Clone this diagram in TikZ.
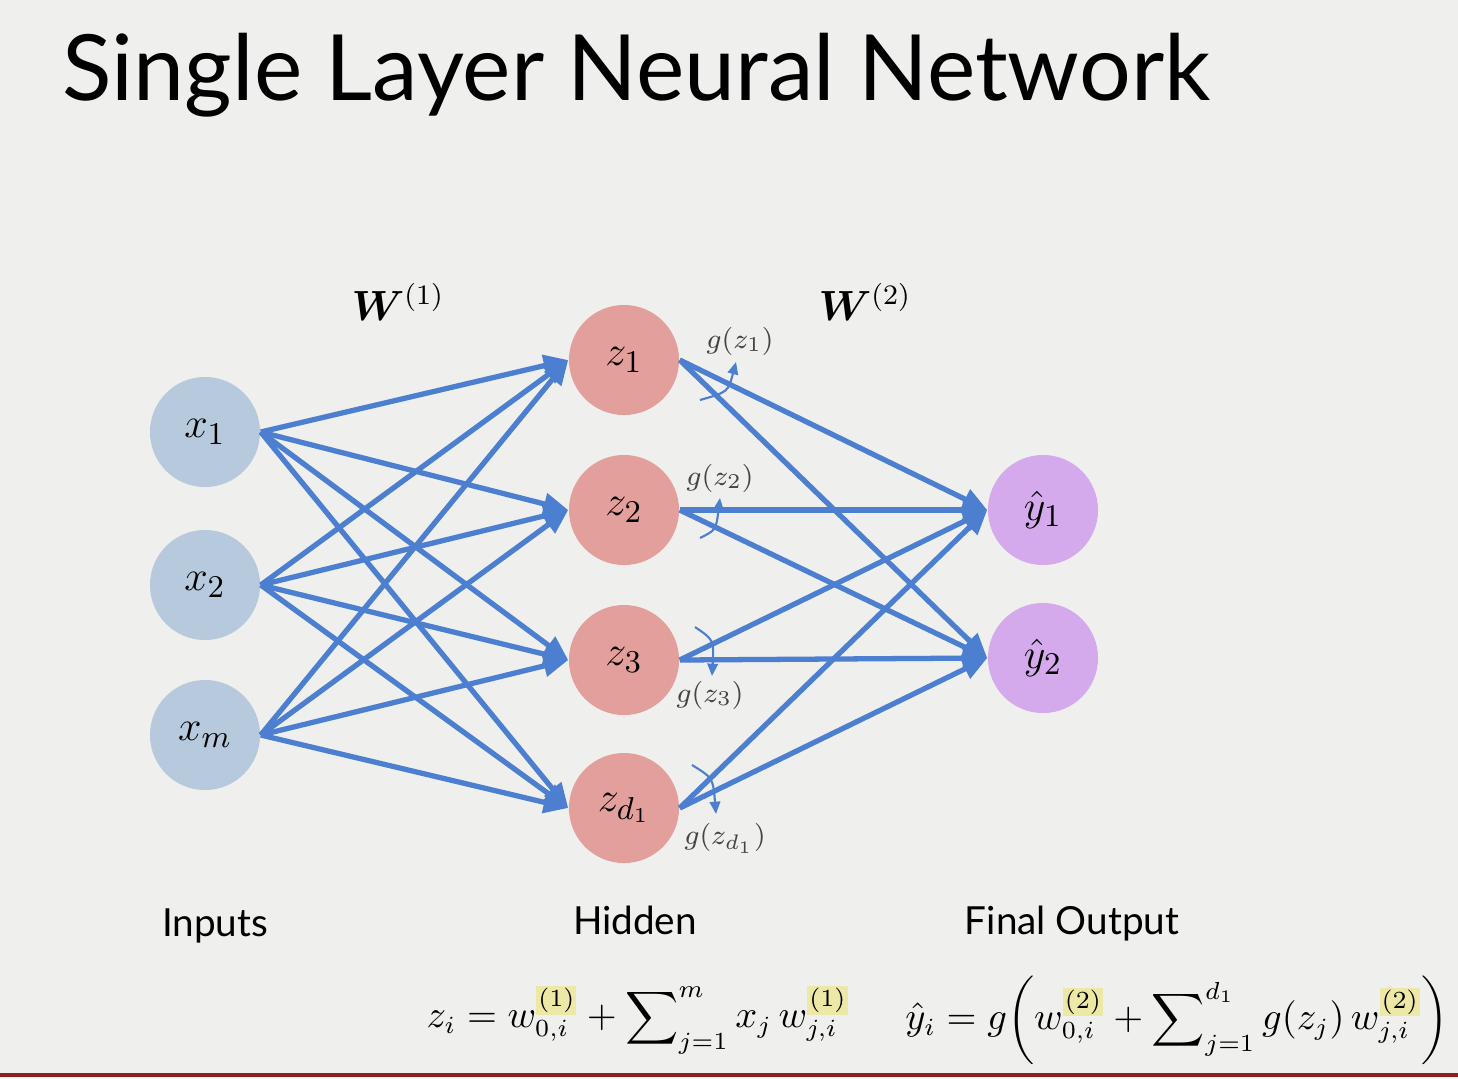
\documentclass[tikz,border=0pt]{standalone}
\usepackage{amsmath}
\usepackage{amssymb}
\usepackage{bm}
\usepackage{fontspec}
\setsansfont{Lato}
\usepackage{tikz}
\usetikzlibrary{arrows.meta}
\usetikzlibrary{calc,positioning}

\definecolor{slidebg}{HTML}{EFEFED}
\definecolor{inblue}{HTML}{B7C9DD}
\definecolor{hidred}{HTML}{E29F9B}
\definecolor{outpurple}{HTML}{D5AAEC}
\definecolor{edgeblue}{HTML}{4C7FD0}
\definecolor{hilite}{HTML}{EDE8A6}
\definecolor{barred}{HTML}{8E1F1F}
\definecolor{actgray}{HTML}{444444}

\newcommand{\hlsup}[1]{{\setlength{\fboxsep}{0.6pt}\colorbox{hilite}{$\scriptstyle #1$}}}

\begin{document}
\begin{tikzpicture}[x=0.01cm, y=-0.01cm, >=Stealth,
    neuron/.style={circle, minimum size=1.1cm, inner sep=0pt, font=\fontsize{13}{15}\selectfont},
    weight/.style={-{Triangle[length=7pt,width=6pt]}, line width=1.5pt, draw=edgeblue},
    act/.style={-{Triangle[length=3.5pt,width=3pt]}, line width=0.6pt, draw=edgeblue},
    actlabel/.style={text=actgray, font=\fontsize{8.5}{10}\selectfont},
    caption/.style={font=\sffamily\fontsize{11}{13}\selectfont, anchor=base}]

    % background and frame
    \fill[slidebg] (0,0) rectangle (1458,1078);
    \useasboundingbox (0,0) rectangle (1458,1078);
    \draw[barred, line width=1.2pt] (0,1075) -- (1458,1075);

    \node[anchor=base west, inner sep=0pt, font=\sffamily\fontsize{26}{31}\selectfont] (title) at (62,100) {Single Layer Neural Network};

    % inputs
    \node[neuron, fill=inblue] (x1) at (205,432) {$x_1$};
    \node[neuron, fill=inblue] (x2) at (205,585) {$x_2$};
    \node[neuron, fill=inblue] (xm) at (205,735) {$x_m$};

    % hidden layer
    \node[neuron, fill=hidred] (z1) at (624,360) {$z_1$};
    \node[neuron, fill=hidred] (z2) at (624,510) {$z_2$};
    \node[neuron, fill=hidred] (z3) at (624,660) {$z_3$};
    \node[neuron, fill=hidred] (zd) at (624,808) {$z_{d_1}$};

    % outputs
    \node[neuron, fill=outpurple] (y1) at (1043,510) {$\hat{y}_1$};
    \node[neuron, fill=outpurple] (y2) at (1043,658) {$\hat{y}_2$};

    % weights
    \foreach \i in {x1,x2,xm}
        \foreach \j in {z1,z2,z3,zd}
            \draw[weight] (\i.east) -- (\j.west);
    \foreach \j in {z1,z2,z3,zd}
        \foreach \k in {y1,y2}
            \draw[weight] (\j.east) -- (\k.west);

    \node[font=\fontsize{12}{14}\selectfont] (w1) at (398,302) {$\bm{W}^{(1)}$};
    \node[font=\fontsize{12}{14}\selectfont] (w2) at (865,302) {$\bm{W}^{(2)}$};

    % activations
    \coordinate (a1) at (700,400);
    \coordinate (a2) at (700,538);
    \coordinate (a3) at (695,627);
    \coordinate (a4) at (692,765);
    \node[actlabel] (g1) at (740,341) {$g(z_1)$};
    \node[actlabel] (g2) at (720,478) {$g(z_2)$};
    \node[actlabel] (g3) at (710,695) {$g(z_3)$};
    \node[actlabel] (g4) at (725,838) {$g(z_{d_1})$};
    \draw[act] (a1) .. controls (728,392) .. (736,362);
    \draw[act] (a2) .. controls (716,530) .. (720,498);
    \draw[act] (a3) .. controls (714,640) .. (712,676);
    \draw[act] (a4) .. controls (713,778) .. (716,814);

    % captions
    \node[caption] (inp) at (215,936) {Inputs};
    \node[caption] (hid) at (635,934) {Hidden};
    \node[caption] (fin) at (1072,934) {Final Output};

%    \node at (640,1020) {...};
    \node[font=\fontsize{10.5}{12}\selectfont] (eq1) at (638,1020)
        {$z_i = w_{0,i}^{\hlsup{(1)}} + \displaystyle\sum\nolimits_{j=1}^{m} x_j\, w_{j,i}^{\hlsup{(1)}}$};
    \node[font=\fontsize{10.5}{12}\selectfont] (eq2) at (1177,1020)
        {$\hat{y}_i = g\bigg( w_{0,i}^{\hlsup{(2)}} + \displaystyle\sum\nolimits_{j=1}^{d_1} g(z_j)\, w_{j,i}^{\hlsup{(2)}} \bigg)$};

\end{tikzpicture}
\end{document}
